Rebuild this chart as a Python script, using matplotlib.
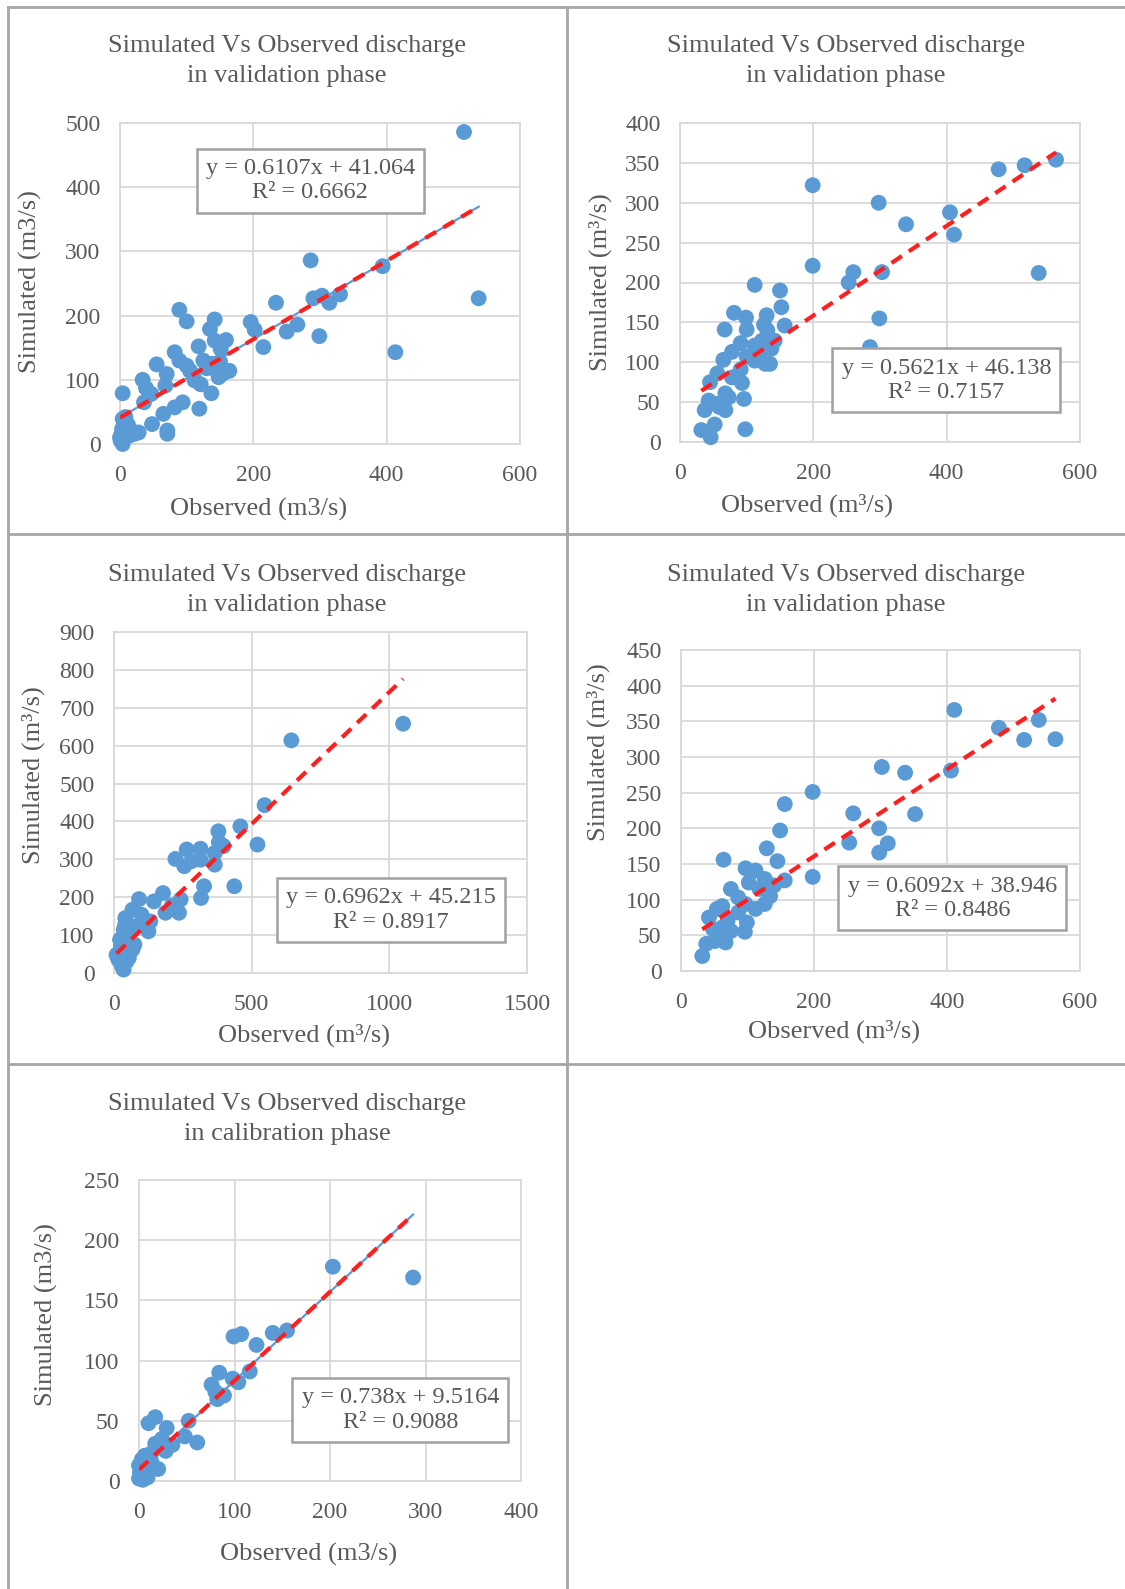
import numpy as np
import matplotlib.pyplot as plt
from matplotlib.lines import Line2D

plt.rcParams['font.family'] = ['Liberation Serif', 'DejaVu Serif']

W, H = 1125, 1589
TXT = '#595959'
DOT = '#5B9BD5'
GRID = '#D9D9D9'
BORDER = '#A6A6A6'

# ---- data ----
p1_obs = [516, 538, 413, 394, 286, 290, 303, 314, 330, 299, 234, 250, 266, 215, 196, 202,
          89, 100, 142, 135, 159, 142, 151, 118, 82, 55, 70, 68, 89, 100, 105, 137, 145, 164,
          148, 121, 137, 112, 34, 39, 47, 36, 4, 94, 82, 65, 119, 48, 71, 71, 28, 22, 8, 4,
          6, 1, 4, 0, 9, 14, 3, 125, 130, 150, 155, 110, 12, 18, 2, 7]
p1_sim = [486, 227, 143, 277, 286, 227, 231, 220, 233, 168, 220, 175, 186, 151, 190, 178,
          209, 191, 194, 179, 162, 161, 148, 152, 143, 124, 109, 91, 130, 122, 114, 125, 114, 114,
          104, 93, 79, 99, 100, 87, 78, 65, 79, 65, 57, 47, 55, 31, 21, 16, 18, 16, 42, 39,
          16, 5, 0, 10, 21, 13, 23, 130, 118, 128, 110, 108, 30, 20, 14, 27]

p2_obs = [564, 517, 478, 538, 405, 411, 339, 298, 303, 299, 285, 260, 253, 199, 199, 112,
          150, 152, 157, 81, 99, 100, 67, 130, 126, 131, 142, 137, 112, 91, 78, 65, 100, 112,
          128, 135, 56, 45, 91, 78, 93, 68, 73, 96, 43, 54, 59, 68, 37, 52, 32, 46, 98, 123, 120]
p2_sim = [354, 347, 342, 212, 288, 260, 273, 300, 213, 155, 119, 213, 200, 322, 221, 197,
          190, 169, 146, 162, 156, 141, 141, 159, 147, 140, 127, 117, 121, 124, 113, 103, 107, 102,
          98, 98, 86, 75, 91, 81, 74, 61, 56, 54, 52, 48, 44, 40, 40, 22, 15, 6, 16, 127, 110]

p3_obs = [1050, 644, 547, 521, 459, 437, 379, 381, 398, 366, 366, 314, 314, 264, 223, 255,
          281, 327, 316, 242, 236, 178, 187, 145, 210, 91, 125, 132, 100, 67, 41, 35, 22, 9,
          16, 35, 29, 54, 74, 67, 48, 54, 48, 80, 41, 30, 60, 25, 45]
p3_sim = [658, 614, 443, 339, 387, 229, 374, 345, 335, 317, 286, 328, 299, 326, 301, 282,
          295, 229, 198, 194, 159, 211, 159, 189, 178, 195, 110, 136, 154, 167, 145, 114, 88, 48,
          35, 9, 18, 40, 75, 62, 101, 88, 53, 123, 128, 60, 110, 70, 30]

p4_obs = [411, 478, 538, 516, 563, 406, 302, 337, 352, 259, 298, 311, 253, 298, 198, 198,
          156, 149, 129, 145, 156, 64, 97, 112, 102, 126, 140, 118, 75, 134, 126, 112, 86, 97,
          62, 54, 42, 86, 99, 96, 70, 62, 48, 56, 67, 38, 32, 75, 51]
p4_sim = [366, 341, 352, 324, 325, 281, 286, 278, 220, 221, 200, 179, 180, 166, 251, 132,
          234, 197, 172, 154, 127, 156, 144, 141, 124, 129, 120, 115, 115, 105, 94, 87, 103, 94,
          91, 87, 75, 82, 68, 55, 70, 61, 59, 49, 40, 38, 21, 56, 42]

p5_obs = [287, 203, 155, 140, 123, 107, 99, 116, 104, 98, 84, 89, 82, 76, 80, 52, 61, 48,
          35, 29, 28, 17, 10, 20, 17, 24, 6, 4, 0, 2, 7, 13, 4, 9, 0, 13, 22, 3, 8, 1, 11]
p5_sim = [169, 178, 125, 123, 113, 122, 120, 91, 82, 85, 90, 71, 68, 80, 74, 50, 32, 37,
          30, 44, 25, 53, 48, 10, 31, 35, 21, 9, 2, 5, 16, 23, 1, 3, 13, 16, 28, 18, 11, 7, 20]

slopes = [0.6107, 0.5621, 0.6962, 0.6092, 0.738]
intercepts = [41.064, 46.138, 45.215, 38.946, 9.5164]
r2 = ['0.6662', '0.7157', '0.8917', '0.8486', '0.9088']
phases = ['validation', 'validation', 'validation', 'validation', 'calibration']
units = ['m3/s', 'm³/s', 'm³/s', 'm³/s', 'm3/s']

x_ticks = [[0, 200, 400, 600], [0, 200, 400, 600], [0, 500, 1000, 1500],
           [0, 200, 400, 600], [0, 100, 200, 300, 400]]
y_ticks = [np.arange(0, 501, 100), np.arange(0, 401, 50), np.arange(0, 901, 100),
           np.arange(0, 451, 50), np.arange(0, 251, 50)]

obs_all = [p1_obs, p2_obs, p3_obs, p4_obs, p5_obs]
sim_all = [p1_sim, p2_sim, p3_sim, p4_sim, p5_sim]

# ---- layout (pixels) ----
axes_px = [(120, 123, 520, 444), (680, 123, 1080, 442), (114, 632, 527, 973),
           (681, 650, 1080, 971), (139, 1180, 521, 1481)]
title_px = [(287, 46), (846, 46), (287, 575), (846, 575), (287, 1104)]
xlab_px = [(259, 509), (807, 505), (304, 1035), (834, 1031), (309, 1554)]
ylab_px = [(30, 282), (600, 282), (33, 775), (598, 752), (46, 1315)]
box_pos = [(0.476, 0.82), (0.666, 0.194), (0.671, 0.185), (0.680, 0.227), (0.684, 0.236)]
blue_under = [True, False, False, False, True]

fig = plt.figure(figsize=(W / 100, H / 100), dpi=100)

for i in range(5):
    l, t, r, b = axes_px[i]
    ax = fig.add_axes([l / W, 1 - b / H, (r - l) / W, (b - t) / H])
    xt, yt = x_ticks[i], y_ticks[i]
    ax.set_xlim(xt[0], xt[-1])
    ax.set_ylim(yt[0], yt[-1])
    ax.set_xticks(xt)
    ax.set_yticks(yt)
    ax.grid(True, color=GRID, lw=1.3)
    ax.set_axisbelow(True)
    for sp in ax.spines.values():
        sp.set_color(GRID)
        sp.set_linewidth(1.3)
    ax.tick_params(length=0, labelsize=17, labelcolor=TXT)
    ax.tick_params(axis='x', pad=15)
    ax.tick_params(axis='y', pad=14)

    obs = np.array(obs_all[i])
    sim = np.array(sim_all[i])
    ax.scatter(obs, sim, s=130, color=DOT, edgecolors='none', zorder=3, clip_on=False)

    xs = np.array([obs.min(), obs.max()])
    ys = slopes[i] * xs + intercepts[i]
    if blue_under[i]:
        ax.plot(xs, ys, color=DOT, lw=1.6, zorder=4)
    ax.plot(xs, ys, color='#FF1F1F', lw=3, linestyle=(0, (3, 2)), zorder=5)

    eq = f'y = {slopes[i]}x + {intercepts[i]}\nR² = {r2[i]}'
    ax.text(box_pos[i][0], box_pos[i][1], eq, transform=ax.transAxes, ha='center',
            va='center', multialignment='center', fontsize=17.5, color=TXT, zorder=6,
            bbox=dict(boxstyle='square,pad=0.38', fc='white', ec='#A0A0A0', lw=1.8))

    tx, ty = title_px[i]
    fig.text(tx / W, 1 - ty / H, 'Simulated Vs Observed discharge', ha='center',
             va='center', fontsize=19, color=TXT)
    fig.text(tx / W, 1 - (ty + 30) / H, f'in {phases[i]} phase', ha='center',
             va='center', fontsize=19, color=TXT)
    xl, yl = xlab_px[i]
    fig.text(xl / W, 1 - yl / H, f'Observed ({units[i]})', ha='center', va='center',
             fontsize=19, color=TXT)
    xl, yl = ylab_px[i]
    fig.text(xl / W, 1 - yl / H, f'Simulated ({units[i]})', ha='center', va='center',
             rotation=90, fontsize=19, color=TXT)

# table borders
def hline(y, x0, x1):
    fig.add_artist(Line2D([x0 / W, x1 / W], [1 - y / H, 1 - y / H], color=BORDER, lw=2))

def vline(x, y0, y1):
    fig.add_artist(Line2D([x / W, x / W], [1 - y0 / H, 1 - y1 / H], color=BORDER, lw=2))

hline(7, 8, W)
hline(534, 8, W)
hline(1064, 8, W)
vline(8, 7, H)
vline(567, 7, H)

fig.savefig('out.png', dpi=100, facecolor='white')
